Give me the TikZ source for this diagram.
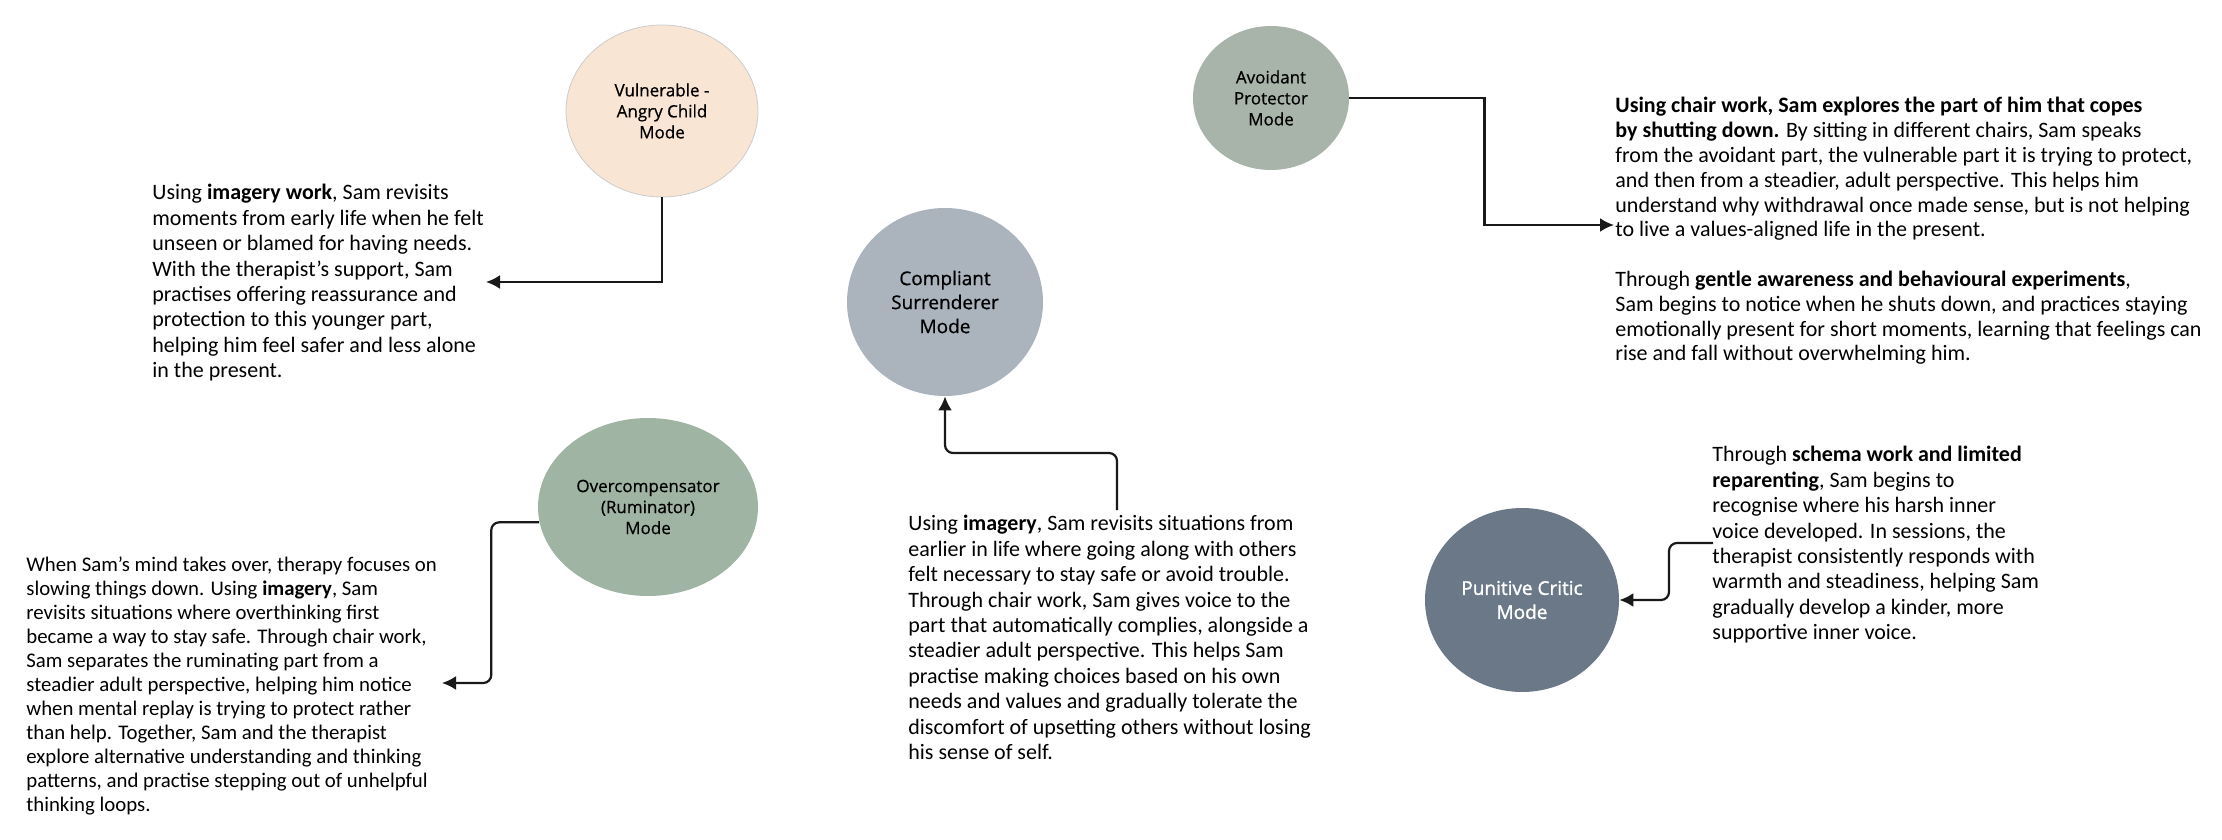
\documentclass[tikz,border=0pt]{standalone}
\usepackage{fontspec}
\setmainfont{Carlito}
\newfontfamily\modefont{Open Sans}[FakeBold=0.6]
\newfontfamily\modesemi{Open Sans}[FakeBold=1.4]
\usetikzlibrary{shapes.geometric,arrows.meta,positioning}
\definecolor{vulfill}{HTML}{F8E5D4}
\definecolor{ovcfill}{HTML}{9FB4A3}
\definecolor{cmpfill}{HTML}{ABB3BC}
\definecolor{avdfill}{HTML}{A8B3A9}
\definecolor{punfill}{HTML}{6A7888}

\begin{document}
\begin{tikzpicture}[x=0.5pt, y=-0.5pt, >={Latex[length=7pt,width=7pt]},
  mode/.style={ellipse, inner sep=0pt, align=center, text=black, font=\modefont\fontsize{8.5}{10.5}\selectfont},
  para/.style={anchor=north west, inner sep=0pt, align=left, text=black, font=\fontsize{11}{12.7}\selectfont},
  link/.style={->, line width=1.1pt, draw=black!90}]
\useasboundingbox (0,0) rectangle (2222,840);

% modes
\node[mode, fill=vulfill, draw=black!20, thin, minimum width=96pt, minimum height=86pt] (vul) at (662,111) {Vulnerable -\\Angry Child\\Mode};
\node[mode, fill=ovcfill, minimum width=110pt, minimum height=89pt] (ovc) at (648,507) {Overcompensator\\(Ruminator)\\Mode};
\node[mode, fill=cmpfill, minimum width=98pt, minimum height=94pt, font=\modefont\fontsize{9.5}{12}\selectfont] (cmp) at (945,302) {Compliant\\Surrenderer\\Mode};
\node[mode, fill=avdfill, minimum width=78pt, minimum height=72pt] (avd) at (1271,98) {Avoidant\\Protector\\Mode};
\node[mode, fill=punfill, minimum width=97pt, minimum height=92pt, text=white, font=\modesemi\fontsize{9.5}{12}\selectfont] (pun) at (1522,600) {Punitive Critic\\Mode};

% texts
\node[para] (vultext) at (152,184) {Using \textbf{imagery work}, Sam revisits\\
moments from early life when he felt\\
unseen or blamed for having needs.\\
With the therapist's support, Sam\\
practises offering reassurance and\\
protection to this younger part,\\
helping him feel safer and less alone\\
in the present.};
\node[para, font=\fontsize{10.4}{12}\selectfont] (ovctext) at (26,556) {When Sam's mind takes over, therapy focuses on\\
slowing things down. Using \textbf{imagery}, Sam\\
revisits situations where overthinking first\\
became a way to stay safe. Through chair work,\\
Sam separates the ruminating part from a\\
steadier adult perspective, helping him notice\\
when mental replay is trying to protect rather\\
than help. Together, Sam and the therapist\\
explore alternative understanding and thinking\\
patterns, and practise stepping out of unhelpful\\
thinking loops.};
\node[para] (cmptext) at (908,515) {Using \textbf{imagery}, Sam revisits situations from\\
earlier in life where going along with others\\
felt necessary to stay safe or avoid trouble.\\
Through chair work, Sam gives voice to the\\
part that automatically complies, alongside a\\
steadier adult perspective. This helps Sam\\
practise making choices based on his own\\
needs and values and gradually tolerate the\\
discomfort of upsetting others without losing\\
his sense of self.};
\node[para, font=\fontsize{11}{12.4}\selectfont] (avdtext) at (1615,97) {\textbf{Using chair work, Sam explores the part of him that copes}\\
\textbf{by shutting down.} By sitting in different chairs, Sam speaks\\
from the avoidant part, the vulnerable part it is trying to protect,\\
and then from a steadier, adult perspective. This helps him\\
understand why withdrawal once made sense, but is not helping\\
to live a values-aligned life in the present.\\[12.4pt]
Through \textbf{gentle awareness and behavioural experiments},\\
Sam begins to notice when he shuts down, and practices staying\\
emotionally present for short moments, learning that feelings can\\
rise and fall without overwhelming him.};
\node[para] (puntext) at (1712,446) {Through \textbf{schema work and limited}\\
\textbf{reparenting}, Sam begins to\\
recognise where his harsh inner\\
voice developed. In sessions, the\\
therapist consistently responds with\\
warmth and steadiness, helping Sam\\
gradually develop a kinder, more\\
supportive inner voice.};

% free ends
\coordinate (vulend) at (486,282);
\coordinate (ovcend) at (442,683);
\coordinate (cmpstart) at (1117,510);
\coordinate (avdend) at (1614,225);
\coordinate (punstart) at (1713,543);

% connectors
\draw[link] (vul.south) |- (vulend);
\draw[link, rounded corners=4pt] (ovc.188) -- ++(-48,0) |- (ovcend);
\draw[link, rounded corners=4pt] (cmpstart) -- ++(0,-57) -| (cmp.south);
\draw[link] (avd.east) -- ++(135,0) |- (avdend);
\draw[link, rounded corners=4pt] (punstart) -- ++(-44,0) |- (pun.east);
\end{tikzpicture}
\end{document}
